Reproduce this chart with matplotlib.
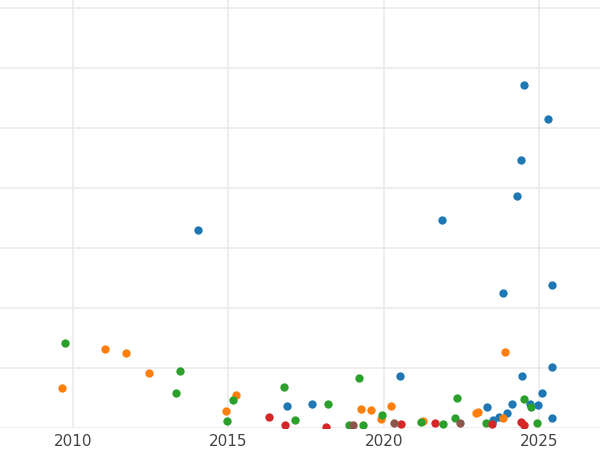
import matplotlib.pyplot as plt

# year, value pairs, one group per colour
blue_x = [2014.02, 2024.5, 2025.27, 2024.4, 2024.27, 2021.86, 2025.4, 2023.82, 2025.4, 2020.51,
          2024.43, 2025.08, 2016.88, 2017.68, 2023.31, 2024.11, 2024.69, 2024.95, 2023.95, 2023.7,
          2023.5, 2025.4]
blue_y = [3.3, 5.72, 5.15, 4.47, 3.87, 3.47, 2.38, 2.25, 1.02, 0.87,
          0.87, 0.58, 0.37, 0.4, 0.35, 0.4, 0.4, 0.38, 0.25, 0.18,
          0.13, 0.17]
orange_x = [2009.64, 2011.03, 2011.7, 2012.44, 2014.92, 2015.24, 2019.26, 2019.58, 2020.22, 2019.9,
            2021.25, 2023.02, 2023.89, 2023.82, 2022.95]
orange_y = [0.67, 1.32, 1.25, 0.92, 0.28, 0.55, 0.32, 0.3, 0.37, 0.15,
            0.12, 0.27, 1.27, 0.17, 0.25]
green_x = [2009.74, 2013.44, 2013.31, 2014.95, 2015.14, 2016.78, 2017.14, 2018.2, 2019.19, 2019.93,
           2019.32, 2018.87, 2021.19, 2021.9, 2022.35, 2022.28, 2023.28, 2024.5, 2024.72, 2024.92]
green_y = [1.42, 0.95, 0.58, 0.12, 0.47, 0.68, 0.13, 0.4, 0.83, 0.22,
           0.05, 0.05, 0.1, 0.07, 0.5, 0.17, 0.08, 0.48, 0.35, 0.08]
red_x = [2016.3, 2016.81, 2018.13, 2020.54, 2021.64, 2023.47, 2024.4, 2024.5]
red_y = [0.18, 0.05, 0.02, 0.07, 0.08, 0.07, 0.1, 0.05]
brown_x = [2019.0, 2020.32, 2022.44]
brown_y = [0.05, 0.08, 0.08]

fig = plt.figure(figsize=(6, 4.5), dpi=100)
ax = fig.add_axes([0, 22 / 450, 1, 428 / 450])

for xs, ys, c in [(blue_x, blue_y, '#1f77b4'), (orange_x, orange_y, '#ff7f0e'),
                  (green_x, green_y, '#2ca02c'), (red_x, red_y, '#d62728'),
                  (brown_x, brown_y, '#8c564b')]:
    ax.scatter(xs, ys, s=36, color=c, zorder=3, linewidths=0)

ax.set_xlim(2007.65, 2026.95)
ax.set_ylim(0, 428 / 60)
ax.set_xticks([2010, 2015, 2020, 2025])
ax.set_yticks([0, 1, 2, 3, 4, 5, 6, 7])
ax.set_yticklabels([])
ax.tick_params(length=0, labelsize=11, labelcolor='#444444', pad=4)
ax.grid(True, color='#ebebeb', linewidth=1.2)
for s in ax.spines.values():
    s.set_visible(False)

fig.savefig('out.png')
